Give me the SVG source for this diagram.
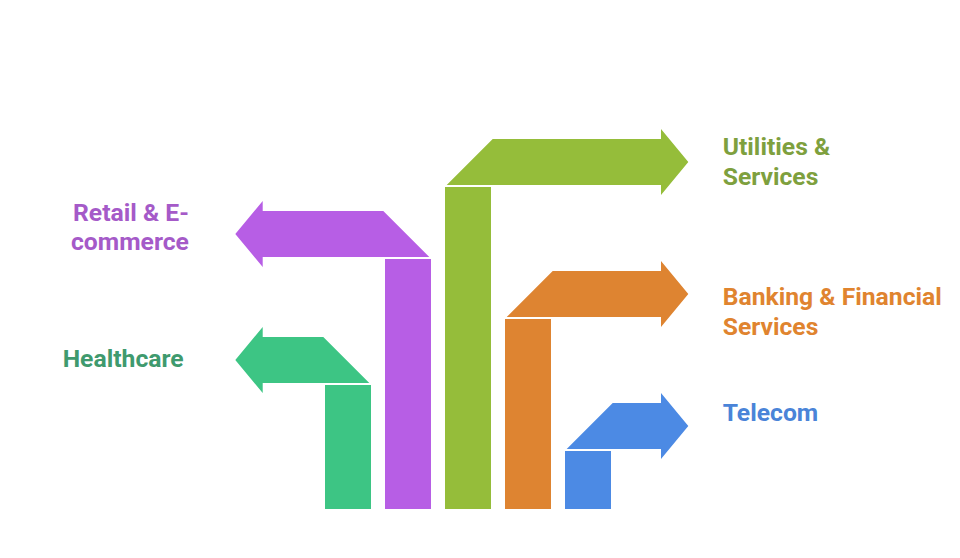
<svg xmlns="http://www.w3.org/2000/svg" width="960" height="558" viewBox="0 0 960 558">
<style>
.t{font-family:Roboto,"Liberation Sans",sans-serif;font-weight:bold;font-size:24.7px}
.green{fill:#3DC584}.purple{fill:#B75EE5}.lime{fill:#95BD3A}.orange{fill:#DE8431}.blue{fill:#4C8AE4}
</style>
<rect width="960" height="558" fill="#fff"/>
<g id="connectors"></g>
<g id="healthcare">
<rect class="green" x="325" y="385" width="46" height="124"/>
<polygon class="green" points="369.3,383 262.7,383 262.7,393 235.3,360 262.7,327 262.7,337 323.3,337"/>
<text class="t" x="62.7" y="366.7" fill="#3F9A6E">Healthcare</text>
</g>
<g id="retail">
<rect class="purple" x="385" y="259" width="46" height="250"/>
<polygon class="purple" points="429.3,257 262.7,257 262.7,267 235.3,234 262.7,201 262.7,211 383.3,211"/>
<text class="t" fill="#A55AC8"><tspan x="73" y="221">Retail &amp; E-</tspan><tspan x="71" y="250">commerce</tspan></text>
</g>
<g id="utilities">
<rect class="lime" x="445" y="187" width="46" height="322"/>
<polygon class="lime" points="446.7,185 661,185 661,195 688.3,162 661,129 661,139 492.7,139"/>
<text class="t" fill="#7EA03E"><tspan x="722.7" y="155">Utilities &amp;</tspan><tspan x="722.7" y="185">Services</tspan></text>
</g>
<g id="banking">
<rect class="orange" x="505" y="319" width="46" height="190"/>
<polygon class="orange" points="506.7,317 661,317 661,327 688.3,294 661,261 661,271 552.7,271"/>
<text class="t" fill="#E0842F"><tspan x="722.7" y="305">Banking &amp; Financial</tspan><tspan x="722.7" y="335">Services</tspan></text>
</g>
<g id="telecom">
<rect class="blue" x="565" y="451" width="46" height="58"/>
<polygon class="blue" points="566.7,449 661,449 661,459 688.3,426 661,393 661,403 612.7,403"/>
<text class="t" x="722.7" y="421" fill="#4A84D8">Telecom</text>
</g>
</svg>
